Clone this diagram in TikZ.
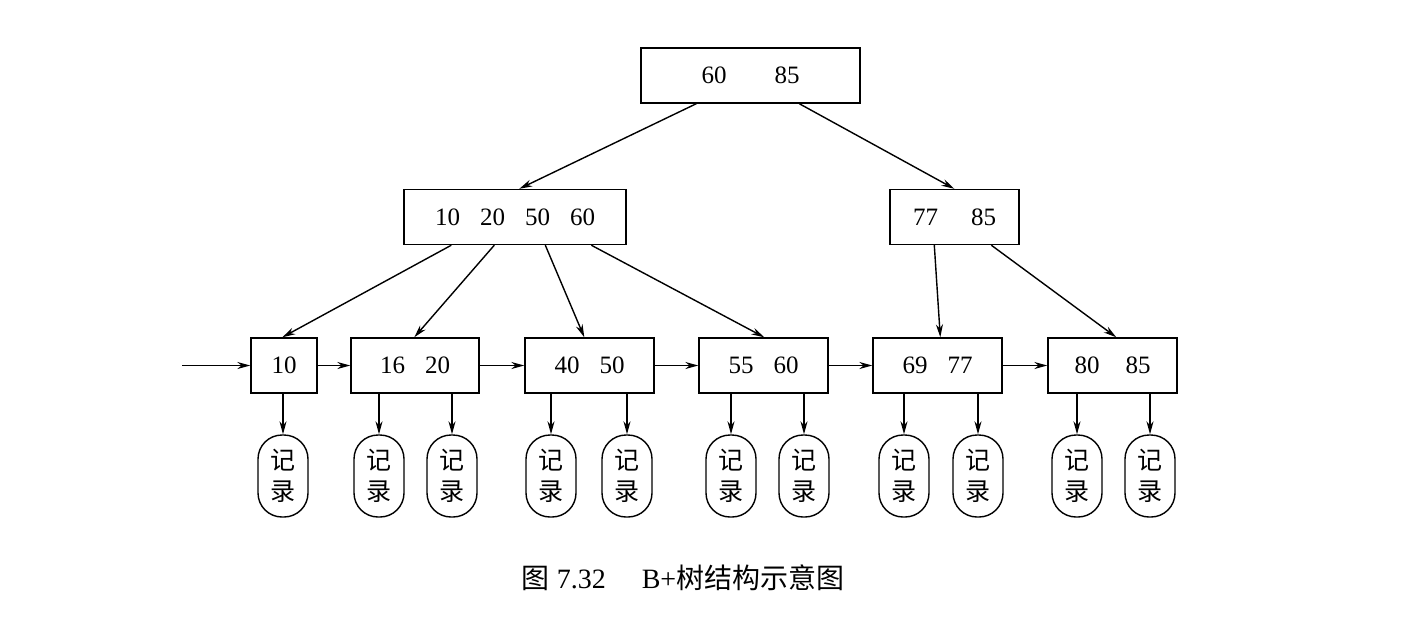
\documentclass[tikz,border=0pt]{standalone}
\usepackage{fontspec}
\setmainfont{Liberation Serif}
\newfontfamily\cjk{Noto Sans CJK SC}
\usetikzlibrary{arrows.meta}
\begin{document}
\begin{tikzpicture}[x=1pt,y=-1pt,
  box/.style={draw,line width=1.4pt,minimum height=55pt,inner sep=0pt,font=\fontsize{25}{29}\selectfont},
  rec/.style={draw,line width=1.4pt,minimum width=50pt,minimum height=82pt,rounded corners=24pt,inner sep=0pt,align=center,font=\cjk\fontsize{25}{31}\selectfont},
  arr/.style={line width=1.4pt,-{Stealth[length=13pt,width=7pt]}}]
\useasboundingbox (0,0) rectangle (1402,616);
\node[box,minimum width=219pt] (root) at (750.5,75.5) {60\hspace{48pt}85};
\node[box,minimum width=222pt] (la) at (515,217) {10\hspace{20pt}20\hspace{20pt}50\hspace{20pt}60};
\node[box,minimum width=129pt] (lb) at (954.5,217) {77\hspace{33pt}85};
\node[box,minimum width=66pt] (f1) at (284,365.5) {10};
\node[box,minimum width=128pt] (f2) at (415,365.5) {16\hspace{20pt}20};
\node[box,minimum width=129pt] (f3) at (589.5,365.5) {40\hspace{20pt}50};
\node[box,minimum width=129pt] (f4) at (763.5,365.5) {55\hspace{20pt}60};
\node[box,minimum width=129pt] (f5) at (937.5,365.5) {69\hspace{20pt}77};
\node[box,minimum width=129pt] (f6) at (1112.5,365.5) {80\hspace{26pt}85};
\coordinate (start) at (182,365.5);
\foreach \n/\x/\f in {r1/283/f1,r2/379/f2,r3/452/f2,r4/551/f3,r5/627/f3,r6/731/f4,r7/804/f4,r8/904/f5,r9/978/f5,r10/1077/f6,r11/1150/f6}{
  \node[rec] (\n) at (\x,476) {记\\录};
  \draw[arr] (\f.south -| \n) -- (\n.north);
}
\draw[arr] (start) -- (f1.west);
\draw[arr] (f1) -- (f2);
\draw[arr] (f2) -- (f3);
\draw[arr] (f3) -- (f4);
\draw[arr] (f4) -- (f5);
\draw[arr] (f5) -- (f6);
\draw[arr] ([xshift=56pt]root.south west) -- ([xshift=116pt]la.north west);
\draw[arr] ([xshift=159pt]root.south west) -- ([xshift=65pt]lb.north west);
\draw[arr] ([xshift=48pt]la.south west) -- ([xshift=32pt]f1.north west);
\draw[arr] ([xshift=91pt]la.south west) -- ([xshift=64pt]f2.north west);
\draw[arr] ([xshift=142pt]la.south west) -- ([xshift=60pt]f3.north west);
\draw[arr] ([xshift=188pt]la.south west) -- ([xshift=66pt]f4.north west);
\draw[arr] ([xshift=45pt]lb.south west) -- ([xshift=68pt]f5.north west);
\draw[arr] ([xshift=102pt]lb.south west) -- ([xshift=69pt]f6.north west);
\node[font=\fontsize{28}{32}\selectfont] (cap) at (683,578) {{\cjk 图} 7.32\hspace{36pt}B+{\cjk 树结构示意图}};
\end{tikzpicture}
\end{document}
